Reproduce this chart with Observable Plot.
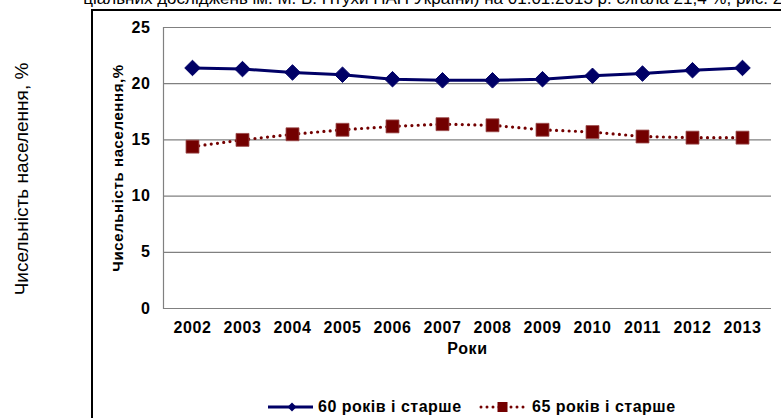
<!DOCTYPE html>
<html>
<head>
<meta charset="utf-8">
<script src="https://cdn.jsdelivr.net/npm/d3@7"></script>
<script src="https://cdn.jsdelivr.net/npm/@observablehq/plot@0.6"></script>
<style>
  html, body { margin: 0; padding: 0; background: #fff; }
  body { width: 781px; height: 418px; position: relative; overflow: hidden; font-family: "Liberation Sans", Arial, sans-serif; }
  #chart { position: absolute; left: 0; top: 0; }
  #chart svg text { letter-spacing: 0.6px; }
  .topline { position: absolute; right: -6px; top: -10px; font-size: 17px; line-height: 17px; white-space: nowrap; color: #000; }
  .outer { position: absolute; left: 22px; top: 179px; transform: translate(-50%, -50%) rotate(-90deg); font-size: 19px; white-space: nowrap; color: #000; }
  .frame { position: absolute; left: 91px; top: 9px; width: 800px; height: 500px; border-left: 2px solid #000; border-top: 2px solid #000; pointer-events: none; }
  .lg { position: absolute; top: 398px; height: 18px; font-size: 16px; font-weight: bold; line-height: 18px; white-space: nowrap; letter-spacing: 0.5px; color: #000; }
  .lg svg { display: block; }
</style>
</head>
<body>
<div class="topline">ціальних досліджень ім. М. В. Птухи НАН України) на 01.01.2013 р. сягала 21,4 %, рис. 2.</div>
<div class="outer">Чисельність населення, %</div>
<div class="frame"></div>
<div id="chart"></div>
<div class="lg" style="left:267px"><svg width="48" height="18"><line x1="1" y1="9" x2="46" y2="9" stroke="#000066" stroke-width="3"/><path d="M25,4.5 L29.5,9 L25,13.5 L20.5,9 Z" fill="#000066"/></svg></div>
<div class="lg" style="left:318px" id="lg1"></div>
<div class="lg" style="left:478px"><svg width="48" height="18"><line x1="3" y1="9" x2="46" y2="9" stroke="#730000" stroke-width="3" stroke-linecap="round" stroke-dasharray="0 6"/><rect x="19.5" y="4" width="10" height="10" fill="#730000"/></svg></div>
<div class="lg" style="left:532px" id="lg2"></div>
<script>
const years = ["2002","2003","2004","2005","2006","2007","2008","2009","2010","2011","2012","2013"];
const age60 = [21.4, 21.3, 21.0, 20.8, 20.4, 20.3, 20.3, 20.4, 20.7, 20.9, 21.2, 21.4];
const age65 = [14.4, 15.0, 15.5, 15.9, 16.2, 16.4, 16.3, 15.9, 15.7, 15.3, 15.2, 15.2];
const yTicks = [0, 5, 10, 15, 20, 25];
const seriesNames = ["60 років і старше", "65 років і старше"];
const xLabel = "Роки";
const yLabel = "Чисельність населення,%";

document.getElementById("lg1").textContent = seriesNames[0];
document.getElementById("lg2").textContent = seriesNames[1];

const d60 = years.map((y, i) => ({year: y, value: age60[i], series: seriesNames[0]}));
const d65 = years.map((y, i) => ({year: y, value: age65[i], series: seriesNames[1]}));

const blue = "#000066";
const red = "#730000";
const font = "\"Liberation Sans\", Arial, sans-serif";

const chart = Plot.plot({
  width: 781,
  height: 418,
  marginLeft: 163,
  marginRight: 10,
  marginTop: 27,
  marginBottom: 110,
  style: {fontFamily: font, fontSize: "16px", fontWeight: "bold", background: "transparent", overflow: "visible"},
  x: {type: "point", domain: years, padding: 0.5},
  y: {domain: [0, 25]},
  marks: [
    Plot.ruleY(yTicks, {stroke: "#808080", strokeWidth: 1.2}),
    Plot.frame({anchor: "left", stroke: "#808080", strokeWidth: 1.2}),
    Plot.axisY({ticks: yTicks, tickSize: 0, tickPadding: 13, label: null, fontSize: 16, fontWeight: "bold", fill: "#000"}),
    Plot.axisX({tickSize: 0, tickPadding: 13, label: null, fontSize: 16, fontWeight: "bold", fill: "#000"}),
    Plot.text([xLabel], {frameAnchor: "bottom", dy: 45, fontSize: 16, fontWeight: "bold", fill: "#000"}),
    Plot.text([yLabel], {frameAnchor: "left", textAnchor: "middle", dx: -45, rotate: -90, fontSize: 15, fontWeight: "bold", fill: "#000"}),
    Plot.line(d60, {x: "year", y: "value", stroke: blue, strokeWidth: 3}),
    Plot.line(d65, {x: "year", y: "value", stroke: red, strokeWidth: 3.2, strokeLinecap: "round", strokeDasharray: "0 6.3"}),
    Plot.dot(d60, {x: "year", y: "value", symbol: "diamond2", r: 7, fill: blue, stroke: blue, strokeWidth: 1}),
    Plot.dot(d65, {x: "year", y: "value", symbol: "square", r: 7.3, fill: red, stroke: "#9a4a4a", strokeWidth: 0.8})
  ]
});
document.getElementById("chart").appendChild(chart);
</script>
</body>
</html>
